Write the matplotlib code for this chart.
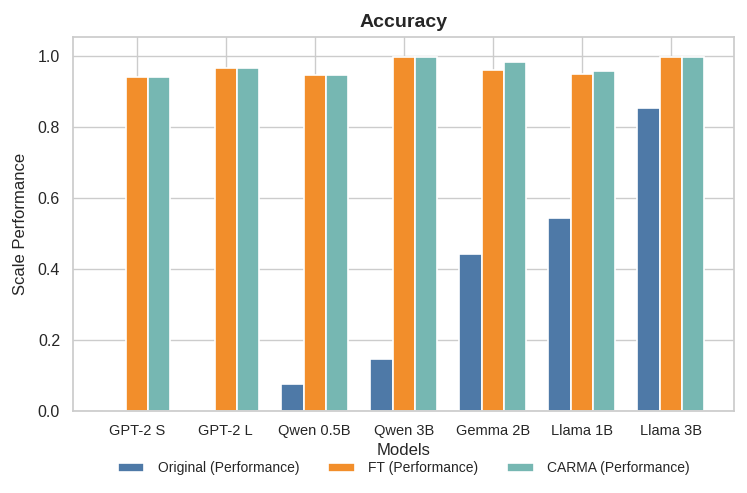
import matplotlib
matplotlib.use("Agg")
import matplotlib.pyplot as plt
import seaborn as sns
import numpy as np

models = ["GPT-2 S", "GPT-2 L", "Qwen 0.5B", "Qwen 3B", "Gemma 2B", "Llama 1B", "Llama 3B"]
original = [0.0, 0.0, 0.076, 0.147, 0.442, 0.544, 0.853]
ft = [0.941, 0.967, 0.945, 0.996, 0.960, 0.950, 0.998]
carma = [0.941, 0.965, 0.945, 0.998, 0.983, 0.958, 0.998]
series_names = ["Original (Performance)", "FT (Performance)", "CARMA (Performance)"]
colors = ["#4e79a7", "#f28e2b", "#76b7b2"]

sns.set_theme(style="whitegrid")
plt.rcParams['font.family'] = ['Liberation Sans', 'DejaVu Sans']

fig = plt.figure(figsize=(7.47, 4.93), dpi=100)
ax = fig.add_axes([0.098, 0.166, 0.885, 0.759])
x = np.arange(len(models))
w = 0.25
for i, (vals, name, c) in enumerate(zip([original, ft, carma], series_names, colors)):
    ax.bar(x + (i - 1) * w, vals, w, label=name, color=c, edgecolor="white", linewidth=1.2)

ax.set_xticks(x)
ax.set_xticklabels(models, fontsize=10.5)
ax.set_ylim(0, 1.053)
ax.set_yticks([0.0, 0.2, 0.4, 0.6, 0.8, 1.0])
ax.set_yticklabels(["0.0", "0.2", "0.4", "0.6", "0.8", "1.0"], fontsize=11.5)
ax.set_title("Accuracy", fontsize=14, fontweight="bold", pad=7)
ax.set_xlabel("Models", fontsize=12, labelpad=4)
ax.set_ylabel("Scale Performance", fontsize=12, labelpad=7)
ax.tick_params(axis="x", pad=3)
ax.legend(loc="upper center", bbox_to_anchor=(0.5, -0.101), ncol=3, frameon=False, fontsize=10,
          handlelength=1.9, handleheight=0.6, columnspacing=2.1, handletextpad=0.95)
fig.savefig("out.png", dpi=100)
